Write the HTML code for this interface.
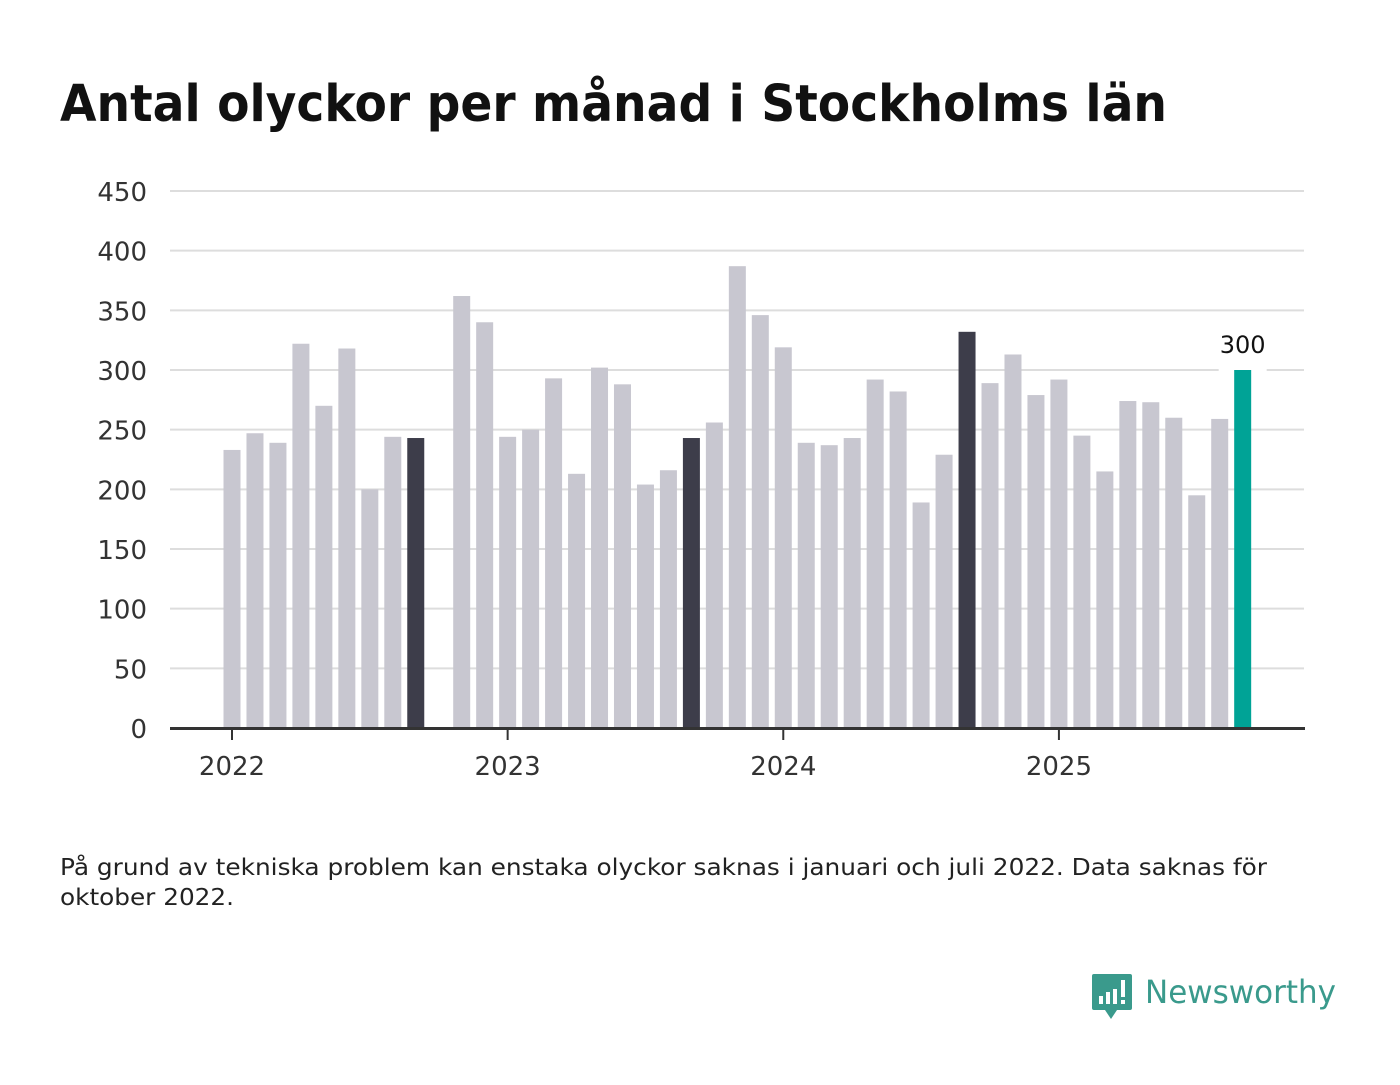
<!DOCTYPE html>
<html><head><meta charset="utf-8"><style>
body{margin:0;background:#fff;width:1400px;height:1080px;overflow:hidden;font-family:"Liberation Sans","DejaVu Sans",sans-serif}
svg text{font-family:"DejaVu Sans","Liberation Sans",sans-serif}
</style></head><body>
<svg id="chart" width="1400" height="1080">
<text x="60" y="121" font-size="51" font-weight="bold" fill="#111" textLength="1107" lengthAdjust="spacingAndGlyphs">Antal olyckor per månad i Stockholms län</text>
<g id="grid"></g>
<g id="bars"></g>
<g id="axis"></g>
<text x="60" y="875" font-size="23" fill="#222" textLength="1207" lengthAdjust="spacingAndGlyphs">På grund av tekniska problem kan enstaka olyckor saknas i januari och juli 2022. Data saknas för</text>
<text x="60" y="905" font-size="23" fill="#222" textLength="174" lengthAdjust="spacingAndGlyphs">oktober 2022.</text>
<g>
<path d="M1094 974 h36 a2 2 0 0 1 2 2 v32 a2 2 0 0 1 -2 2 h-13 l-6 9 l-6 -9 h-11 a2 2 0 0 1 -2 -2 v-32 a2 2 0 0 1 2 -2z" fill="#3a9a8c"/>
<rect x="1099" y="996" width="4" height="8" fill="#fff"/><rect x="1106" y="992" width="4" height="12" fill="#fff"/><rect x="1113" y="989" width="4" height="15" fill="#fff"/><rect x="1121" y="980" width="4" height="17" fill="#fff"/><rect x="1121" y="1000" width="4" height="4" fill="#fff"/>
<text x="1145" y="1003" font-size="32" fill="#3a9a8c" font-family="Liberation Sans" textLength="191" lengthAdjust="spacingAndGlyphs">Newsworthy</text>
</g>
</svg>
<script>
const years = ["2022","2023","2024","2025"];
const yTicks = [0,50,100,150,200,250,300,350,400,450];
const months = [];
for (let y=2022;y<=2025;y++) for (let m=0;m<12;m++) { if (y===2025 && m>8) break; months.push(y+"-"+(m+1)); }
const values = [233,247,239,322,270,318,200,244,243,null,362,340,
244,250,293,213,302,288,204,216,243,256,387,346,
319,239,237,243,292,282,189,229,332,289,313,279,
292,245,215,274,273,260,195,259,300];
const highlight = ["2022-9","2023-9","2024-9"];
const NS="http://www.w3.org/2000/svg";
function yS(v){return 728 - v*(537/450);}
function xS(i){return 232 + i*22.97;}
function mk(t,a,p){const e=document.createElementNS(NS,t);for(const k in a)e.setAttribute(k,a[k]);p.appendChild(e);return e;}
const grid=document.getElementById('grid'),bars=document.getElementById('bars'),axis=document.getElementById('axis');
yTicks.forEach(v=>{
  if(v>0){const l=mk('line',{x1:170,x2:1304,y1:yS(v),y2:yS(v),stroke:'#ddd','stroke-width':2},grid);
  
  }
  const t=mk('text',{x:147,y:yS(v)+10,'font-size':26,fill:'#333','text-anchor':'end'},axis);t.textContent=v;
  
  
});
values.forEach((v,i)=>{
  if(v===null)return;
  const last=i===values.length-1;
  const col=last?'#00a396':(highlight.includes(months[i])?'#3d3d4a':'#c8c7d0');
  if(last){
    mk('rect',{x:xS(i)-24,y:yS(v)-6,width:48,height:12,fill:'#fff'},grid);
  }
  const r=mk('rect',{x:xS(i)-8.5,y:yS(v),width:17,height:yS(0)-yS(v),fill:col},bars);
  
  
  if(last){
    const t=mk('text',{x:xS(i),y:yS(v)-17,'font-size':24,fill:'#111','text-anchor':'middle'},bars);t.textContent=v;
    
    
  }
});
const ax=mk('line',{x1:170,x2:1305,y1:728.5,y2:728.5,stroke:'#333','stroke-width':3},axis);


years.forEach((y,k)=>{
  const x=xS(k*12);
  mk('line',{x1:x,x2:x,y1:728,y2:740,stroke:'#333','stroke-width':2},axis);
  const t=mk('text',{x:x,y:775,'font-size':26,fill:'#333','text-anchor':'middle'},axis);t.textContent=y;
  
  
});
</script>
</body></html>
